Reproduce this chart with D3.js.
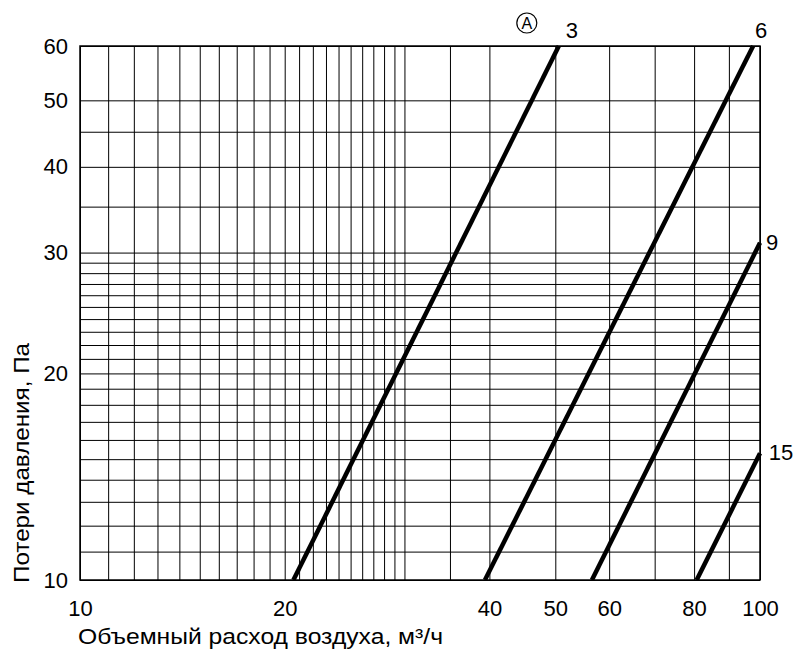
<!DOCTYPE html>
<html>
<head>
<meta charset="utf-8">
<script src="https://cdn.jsdelivr.net/npm/d3@7"></script>
<style>
  body { margin: 0; background: #fff; }
  svg text { font-family: "Liberation Sans", Arial, sans-serif; fill: #000; }
</style>
</head>
<body>
<div id="chart"></div>
<script>
// values (log-log)
const xTicks = [10, 20, 40, 50, 60, 80, 100];
const yTicks = [10, 20, 30, 40, 50, 60];
const xGrid = [10, 11, 12, 13, 14, 15, 16, 17, 18, 19, 20, 21, 22, 23, 24, 25, 26, 27, 28, 29, 30, 35, 40, 50, 60, 70, 80, 90, 100];
const yGrid = [10, 11, 12, 13, 14, 15, 16, 17, 18, 19, 20, 21, 22, 23, 24, 25, 26, 27, 28, 29, 30, 35, 40, 45, 50, 60];

// curve labels and their end points [flow, pressure]
const seriesNames = ["3", "6", "9", "15"];
const seriesStart = [[20.6, 10], [39.4, 10], [56.6, 10], [80.7, 10]];
const seriesEnd = [[50.6, 60], [97.7, 60], [100, 31], [100, 15.3]];

const xTitle = "Объемный расход воздуха, м³/ч";
const yTitle = "Потери давления, Па";

const W = 796, H = 653;
const margin = {top: 46, right: 36, bottom: 73, left: 80};
const width = W - margin.left - margin.right;
const height = H - margin.top - margin.bottom;
const fs = 22;

const svg = d3.select("#chart").append("svg")
    .attr("width", W)
    .attr("height", H);

const g = svg.append("g")
    .attr("transform", "translate(" + margin.left + "," + margin.top + ")");

const x = d3.scaleLog().domain([10, 100]).range([0, width]);
const y = d3.scaleLog().domain([10, 60]).range([height, 0]);

// сетка
g.append("g")
    .attr("transform", "translate(0," + height + ")")
    .call(d3.axisBottom(x).tickValues(xGrid).tickSize(-height).tickFormat(""))
    .call(a => a.select(".domain").remove())
    .call(a => a.selectAll("line").attr("stroke", "#000").attr("stroke-width", 1));

g.append("g")
    .call(d3.axisLeft(y).tickValues(yGrid).tickSize(-width).tickFormat(""))
    .call(a => a.select(".domain").remove())
    .call(a => a.selectAll("line").attr("stroke", "#000").attr("stroke-width", 1));

// рамка
g.append("rect")
    .attr("x", 0).attr("y", 0)
    .attr("width", width).attr("height", height)
    .attr("fill", "none")
    .attr("stroke", "#000")
    .attr("stroke-width", 1.5);

// подписи делений
g.append("g")
    .attr("transform", "translate(0," + height + ")")
    .call(d3.axisBottom(x).tickValues(xTicks).tickSize(0).tickPadding(20).tickFormat(d3.format("d")))
    .call(a => a.select(".domain").remove())
    .call(a => a.selectAll("text").attr("font-size", fs));

g.append("g")
    .call(d3.axisLeft(y).tickValues(yTicks).tickSize(0).tickPadding(12).tickFormat(d3.format("d")))
    .call(a => a.select(".domain").remove())
    .call(a => a.selectAll("text").attr("font-size", fs));

// кривые
const line = d3.line().x(d => x(d[0])).y(d => y(d[1]));
seriesNames.forEach((name, i) => {
    g.append("path")
        .datum([seriesStart[i], seriesEnd[i]])
        .attr("d", line)
        .attr("fill", "none")
        .attr("stroke", "#000")
        .attr("stroke-width", 4.5);
});

// подписи кривых
const labelPos = [[13, -16], [8, -16], [12, -1], [21, -1]];
seriesNames.forEach((name, i) => {
    const e = seriesEnd[i];
    g.append("text")
        .attr("x", x(e[0]) + labelPos[i][0])
        .attr("y", y(e[1]) + labelPos[i][1])
        .attr("dy", "0.35em")
        .attr("text-anchor", "middle")
        .attr("font-size", fs)
        .text(name);
});

// маркер A
const ax = x(seriesEnd[0][0]) - 32, ay = -23;
g.append("circle")
    .attr("cx", ax).attr("cy", ay).attr("r", 10)
    .attr("fill", "none").attr("stroke", "#000").attr("stroke-width", 1.2);
g.append("text")
    .attr("x", ax).attr("y", ay)
    .attr("dy", "0.36em")
    .attr("text-anchor", "middle")
    .attr("font-size", 16)
    .text("A");

// заголовки осей
svg.append("text")
    .attr("x", 78)
    .attr("y", 644)
    .attr("font-size", fs)
    .attr("textLength", 365)
    .attr("lengthAdjust", "spacingAndGlyphs")
    .text(xTitle);

svg.append("text")
    .attr("transform", "translate(28.5," + 583 + ") rotate(-90)")
    .attr("font-size", fs)
    .attr("textLength", 240)
    .attr("lengthAdjust", "spacingAndGlyphs")
    .text(yTitle);
</script>
</body>
</html>
